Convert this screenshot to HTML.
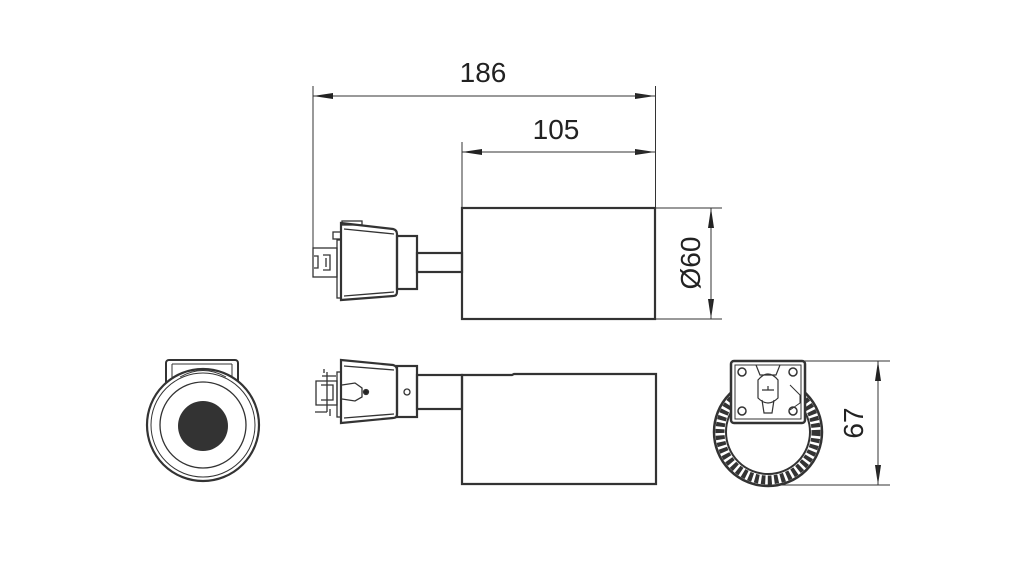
<!DOCTYPE html>
<html><head><meta charset="utf-8"><style>
html,body{margin:0;padding:0;background:#fff;}
svg{display:block;}
text{font-family:"Liberation Sans",sans-serif;fill:#222;}
</style></head><body>
<svg width="1024" height="571" viewBox="0 0 1024 571" xmlns="http://www.w3.org/2000/svg">
<defs>
<marker id="a" markerWidth="20" markerHeight="8" refX="20" refY="4" orient="auto" markerUnits="userSpaceOnUse">
<path d="M0,1 L20,4 L0,7 Z" fill="#222"/></marker>
</defs>
<g stroke="#333" fill="none">
<line x1="313" y1="86" x2="313" y2="248" stroke-width="1"/>
<line x1="462" y1="142" x2="462" y2="208" stroke-width="1"/>
<line x1="655.5" y1="86" x2="655.5" y2="208" stroke-width="1"/>
<line x1="313" y1="96" x2="655" y2="96" stroke-width="1" marker-end="url(#a)"/>
<line x1="655" y1="96" x2="313" y2="96" stroke-width="1" marker-end="url(#a)"/>
<line x1="462" y1="152" x2="655" y2="152" stroke-width="1" marker-end="url(#a)"/>
<line x1="655" y1="152" x2="462" y2="152" stroke-width="1" marker-end="url(#a)"/>
<line x1="655" y1="208" x2="722" y2="208" stroke-width="1"/>
<line x1="655" y1="319" x2="722" y2="319" stroke-width="1"/>
<line x1="711" y1="208" x2="711" y2="319" stroke-width="1" marker-end="url(#a)"/>
<line x1="711" y1="319" x2="711" y2="208" stroke-width="1" marker-end="url(#a)"/>
<line x1="790" y1="361" x2="890" y2="361" stroke-width="1"/>
<line x1="760" y1="485" x2="890" y2="485" stroke-width="1"/>
<line x1="878" y1="361" x2="878" y2="485" stroke-width="1" marker-end="url(#a)"/>
<line x1="878" y1="485" x2="878" y2="361" stroke-width="1" marker-end="url(#a)"/>

<g stroke-width="2.2">
<rect x="462" y="208" width="193" height="111"/>
<rect x="417" y="253" width="45" height="19"/>
<rect x="397" y="236" width="20" height="53"/>
<path d="M341,223 L393,229 Q397,230 397,234 L397,292 Q397,296 393,296 L341,300 Z"/>
</g>
<g stroke-width="1.3">
<line x1="344" y1="229" x2="394" y2="234"/>
<line x1="344" y1="296" x2="394" y2="292"/>
<rect x="342" y="221" width="20" height="4"/>
<rect x="333" y="232" width="8" height="7"/>
<rect x="337" y="240" width="4" height="58"/>
<rect x="313" y="248" width="24" height="29"/>
<path d="M323,255 L330,255 L330,270 L323,270 M326,258 L326,267 M314,256 L318,256 L318,268 L314,268"/>
</g>

<g stroke-width="2.2">
<path d="M462,484 L462,375 L512,375 L514,374 L656,374 L656,484 Z"/>
<rect x="417" y="375" width="45" height="34"/>
<rect x="397" y="366" width="20" height="51"/>
<path d="M341,360 L393,365 Q397,366 397,370 L397,414 Q397,418 393,418 L341,423 Z"/>
</g>
<g stroke-width="1.3">
<line x1="344" y1="366" x2="394" y2="370"/>
<line x1="344" y1="418" x2="394" y2="414"/>
<circle cx="407" cy="392" r="3"/>
<path d="M342,385 L355,383 L362,388 L362,397 L355,401 L342,399"/>
<circle cx="366" cy="392" r="2.5" fill="#222"/>
<rect x="337" y="372" width="4" height="45"/>
<path d="M327,372 L327,412 M322,376 L336,376 M316,381 L337,381 L337,405 L316,405 Z M321,385 L333,385 L333,400 L321,400 M315,412 L327,412 M324,369 L324,373 M330,409 L330,416"/>
</g>

<g>
<rect x="166" y="360" width="72" height="25" rx="3" stroke-width="2"/>
<line x1="172" y1="364" x2="232" y2="364" stroke-width="1"/>
<line x1="172" y1="364" x2="172" y2="385" stroke-width="1"/>
<line x1="232" y1="364" x2="232" y2="385" stroke-width="1"/>
<circle cx="203" cy="425" r="56" fill="#fff" stroke-width="2.2"/>
<circle cx="203" cy="425" r="52" stroke-width="1"/>
<circle cx="203" cy="425" r="43" stroke-width="1.3"/>
<path d="M180,377 Q203,364 226,377" stroke-width="1"/>
<circle cx="203" cy="426" r="25" fill="#333" stroke="none"/>
</g>

<g>
<circle cx="768" cy="432" r="54" stroke-width="2.5"/>
<circle cx="768" cy="432" r="42" stroke-width="2"/>
<circle cx="768" cy="432" r="48" stroke-width="9" stroke="#333" stroke-dasharray="4 2.5"/>
<rect x="731" y="361" width="74" height="62" rx="3" fill="#fff" stroke-width="2.5"/>
<rect x="735" y="365" width="66" height="54" stroke-width="1"/>
<circle cx="742" cy="372" r="4" stroke-width="1.5"/>
<circle cx="793" cy="372" r="4" stroke-width="1.5"/>
<circle cx="742" cy="411" r="4" stroke-width="1.5"/>
<circle cx="793" cy="411" r="4" stroke-width="1.5"/>
<path d="M756,365 L760,375 L776,375 L780,365 M758,380 Q768,368 778,380 L778,398 Q768,408 758,398 Z M762,390 L774,390 M768,386 L768,390 M762,400 L764,413 L772,413 L774,400" stroke-width="1.2"/>
<path d="M790,385 L800,395 L800,403 L790,410" stroke-width="1"/>
</g>
</g>
<text x="483" y="82" font-size="28" text-anchor="middle">186</text>
<text x="556" y="139" font-size="28" text-anchor="middle">105</text>
<text transform="translate(700,263) rotate(-90)" font-size="28" text-anchor="middle">Ø60</text>
<text transform="translate(863,423) rotate(-90)" font-size="28" text-anchor="middle">67</text>
</svg>
</body></html>
